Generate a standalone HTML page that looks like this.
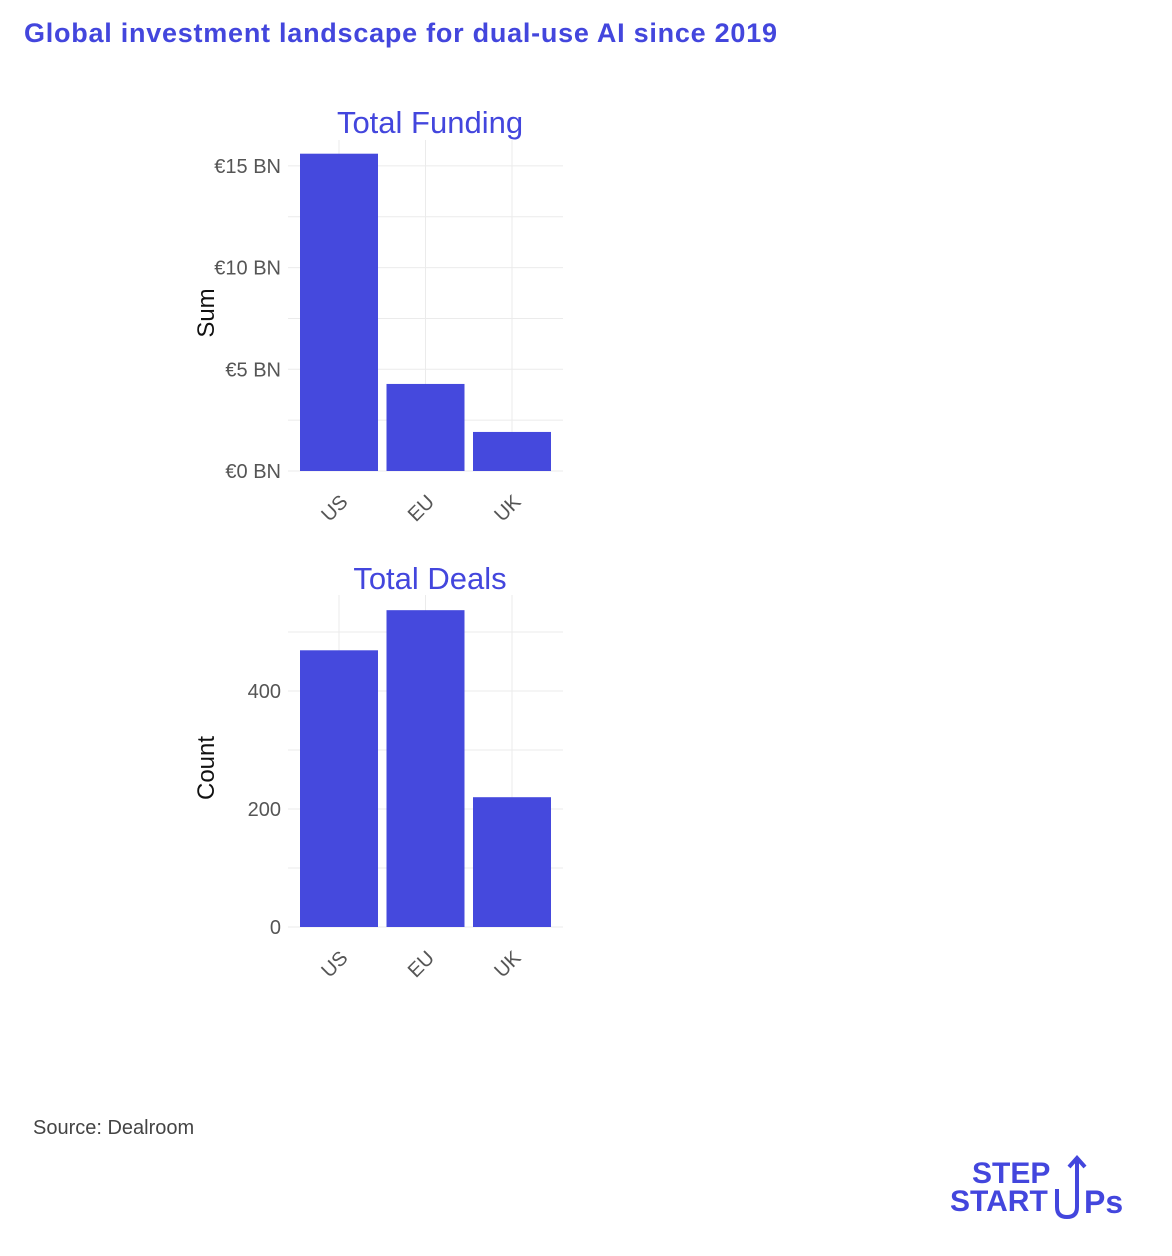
<!DOCTYPE html>
<html><head><meta charset="utf-8"><style>
body{margin:0;background:#fff;width:1172px;height:1256px;overflow:hidden;font-family:"Liberation Sans",sans-serif;position:relative}
.t{position:absolute;white-space:nowrap}
</style></head><body>
<div class="t" style="left:24px;top:18px;font-size:27px;font-weight:bold;color:#4346dd;letter-spacing:0.75px">Global investment landscape for dual-use AI since 2019</div>
<svg id="c" width="1172" height="1100" style="position:absolute;left:0;top:0"></svg>
<div class="t" style="left:33px;top:1117px;font-size:20px;color:#444">Source: Dealroom</div>
<div style="position:absolute;left:950px;top:1155px;width:185px;height:70px">
<div class="t" style="left:22px;top:4px;font-size:30px;font-weight:bold;color:#4346dd;line-height:30px">STEP</div>
<div class="t" style="left:0;top:32px;font-size:30px;font-weight:bold;color:#4346dd;line-height:30px">START</div>
<svg width="185" height="70" style="position:absolute;left:0;top:0"><path d="M107 34 V52 Q107 62 117 62 Q127 62 127 52 V4 M119 12 L127 3 L135 12" stroke="#4346dd" stroke-width="4" fill="none"/></svg>
<div class="t" style="left:134px;top:31px;font-size:32px;font-weight:bold;color:#4346dd;line-height:32px">Ps</div>
</div>
<script>
const categories=["US","EU","UK"];
const fundingValues=[15.6,4.28,1.92];
const fundingTicks=[0,5,10,15];
const fundingTickLabels=["€0 BN","€5 BN","€10 BN","€15 BN"];
const dealValues=[469,537,220];
const dealTicks=[0,200,400];
const dealTickLabels=["0","200","400"];
const svg=document.getElementById('c');
const NS="http://www.w3.org/2000/svg";
function el(t,a){const e=document.createElementNS(NS,t);for(const k in a)e.setAttribute(k,a[k]);svg.appendChild(e);return e;}
function panel(o){
  const x0=288,x1=563;
  const y=v=>o.base-(v-o.vmin)*o.scale;
  const xc=i=>339+i*86.5;
  for(let v=o.vmin;y(v)>=o.top;v+=o.minor){const g=el('line',{x1:x0,x2:x1,y1:y(v),y2:y(v),stroke:'#ebebeb','stroke-width':1});
    
    }
  categories.forEach((c,i)=>{const g=el('line',{x1:xc(i),x2:xc(i),y1:o.top,y2:o.base,stroke:'#ebebeb'});
    
    });
  o.ticks.forEach((v,i)=>{const t=el('text',{x:281,y:y(v)+7,'text-anchor':'end','font-size':20,fill:'#555'});t.textContent=o.labels[i];
    
    });
  o.values.forEach((v,i)=>{const r=el('rect',{x:xc(i)-39,width:78,y:y(v),height:o.base-y(v),fill:'#4549dd'});
    
    });
  categories.forEach((c,i)=>{const tx=xc(i)+10,ty=o.base+32;const t=el('text',{x:tx,y:ty,'text-anchor':'end','font-size':20,fill:'#555',transform:`rotate(-45 ${tx} ${ty})`});t.textContent=c;
    
    });
  const ti=el('text',{x:430,y:o.titleY,'text-anchor':'middle','font-size':31,fill:'#4346dd'});ti.textContent=o.title;
  
  
  const ya=el('text',{x:0,y:0,'text-anchor':'middle','font-size':24,fill:'#111',transform:`translate(214 ${o.ylabY}) rotate(-90)`});ya.textContent=o.ylab;
  
  
}
panel({values:fundingValues,ticks:fundingTicks,labels:fundingTickLabels,base:471,vmin:0,scale:101.7/5,minor:2.5,top:140,title:"Total  Funding",titleY:133,ylab:"Sum",ylabY:313});
panel({values:dealValues,ticks:dealTicks,labels:dealTickLabels,base:927,vmin:0,scale:118/200,minor:100,top:595,title:"Total  Deals",titleY:589,ylab:"Count",ylabY:768});
</script>
</body></html>
